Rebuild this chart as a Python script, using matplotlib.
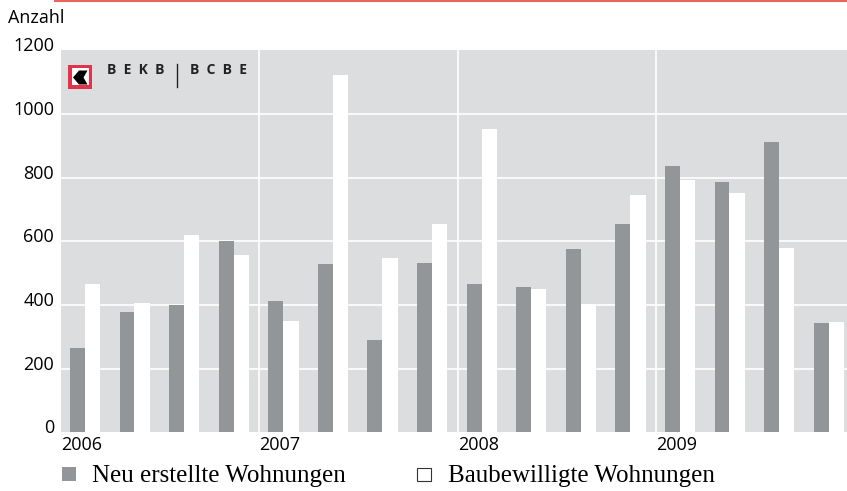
import matplotlib.pyplot as plt
import matplotlib.patches as mpatches
from matplotlib.lines import Line2D
from matplotlib.transforms import ScaledTranslation

# quarterly values 2006 Q1 .. 2009 Q4
quarters = ['2006 Q1', '2006 Q2', '2006 Q3', '2006 Q4',
            '2007 Q1', '2007 Q2', '2007 Q3', '2007 Q4',
            '2008 Q1', '2008 Q2', '2008 Q3', '2008 Q4',
            '2009 Q1', '2009 Q2', '2009 Q3', '2009 Q4']
neu_erstellt = [265, 378, 400, 601, 412, 529, 290, 532,
                466, 457, 576, 654, 837, 787, 912, 344]
baubewilligt = [466, 406, 620, 557, 350, 1122, 546, 654,
                953, 451, 403, 746, 793, 752, 579, 346]
years = ['2006', '2007', '2008', '2009']
y_ticks = [0, 200, 400, 600, 800, 1000, 1200]

W, H = 847, 491
BG = '#dcdddf'
GRAY = '#939699'
SANS = 'Open Sans'


def fx(px):
    return px / W


def fy(py):
    return 1 - py / H


fig = plt.figure(figsize=(W / 100, H / 100), dpi=100)
ax = fig.add_axes([fx(61), fy(432.3), 1 - fx(61), fy(50.3) - fy(432.3)])
ax.set_facecolor(BG)
for s in ax.spines.values():
    s.set_visible(False)

x = list(range(len(quarters)))
ax.bar([i + 0.18 for i in x], neu_erstellt, width=0.30, align='edge', color=GRAY, zorder=3)
ax.bar([i + 0.48 for i in x], baubewilligt, width=0.31, align='edge', color='white', zorder=3)

ax.set_xlim(0, 15.85)
ax.set_ylim(0, 1200)

for v in y_ticks[1:-1]:
    ax.axhline(v, color='white', lw=1.2, zorder=1)
for k in range(1, len(years)):
    ax.axvline(4 * k, color='white', lw=1.2, zorder=1)

ax.set_yticks(y_ticks)
ax.set_yticklabels([str(v) for v in y_ticks], fontfamily=SANS, fontsize=13)
ax.set_xticks([4 * k for k in range(len(years))])
ax.set_xticklabels(years, fontfamily=SANS, fontsize=13, ha='left')
ax.tick_params(length=0)
ax.tick_params(axis='y', pad=5)
ax.tick_params(axis='x', pad=3)
for lbl in ax.get_yticklabels():
    lbl.set_transform(lbl.get_transform() + ScaledTranslation(0, 6 / 100, fig.dpi_scale_trans))

fig.text(fx(8), fy(18), 'Anzahl', fontfamily=SANS, fontsize=13, va='center', ha='left')

# red rule on top
fig.add_artist(Line2D([fx(55), 1], [fy(0.7), fy(0.7)], color='#e8665e', lw=1.5))

# logo
fig.add_artist(mpatches.Rectangle((fx(68), fy(89)), fx(24), fy(65) - fy(89),
                                  facecolor='#e1344c', edgecolor='none', zorder=5))
fig.add_artist(mpatches.Rectangle((fx(71.5), fy(85.5)), fx(17), fy(68.5) - fy(85.5),
                                  facecolor='white', edgecolor='none', zorder=6))
arrow = [(73, 77.5), (79, 70.5), (87.5, 70.5), (83.5, 77.5), (87.5, 84.5), (79, 84.5)]
fig.add_artist(mpatches.Polygon([(fx(a), fy(b)) for a, b in arrow], closed=True,
                                facecolor='black', edgecolor='none', zorder=7))
fig.text(fx(107), fy(70), 'B  E  K  B', fontfamily=SANS, fontweight='bold', fontsize=10,
         va='center', ha='left', color='#222222')
fig.add_artist(Line2D([fx(177), fx(177)], [fy(64), fy(87)], color='#222222', lw=1.0))
fig.text(fx(190), fy(70), 'B  C  B  E', fontfamily=SANS, fontweight='bold', fontsize=10,
         va='center', ha='left', color='#222222')

# legend
fig.add_artist(mpatches.Rectangle((fx(62), fy(481)), fx(14), fy(467) - fy(481),
                                  facecolor=GRAY, edgecolor='none'))
fig.text(fx(92), fy(476), 'Neu erstellte Wohnungen', fontfamily='Liberation Serif',
         fontsize=18, va='center', ha='left')
fig.add_artist(mpatches.Rectangle((fx(417), fy(481)), fx(14), fy(468) - fy(481),
                                  facecolor='white', edgecolor='#333333', lw=0.8))
fig.text(fx(448), fy(476), 'Baubewilligte Wohnungen', fontfamily='Liberation Serif',
         fontsize=18, va='center', ha='left')

fig.savefig('out.png', dpi=100)
